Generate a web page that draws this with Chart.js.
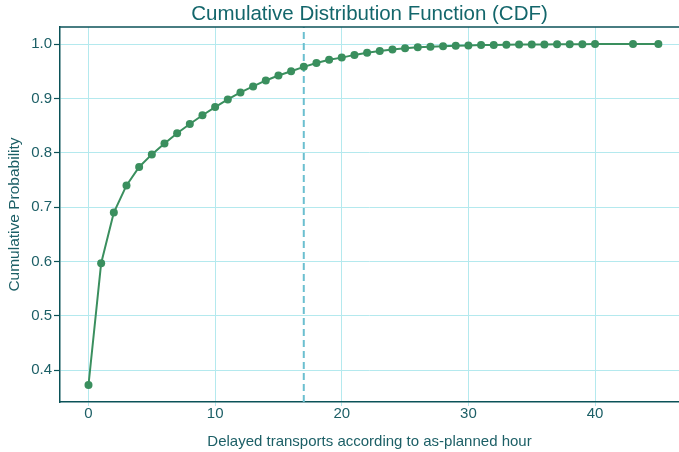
<!DOCTYPE html>
<html>
<head>
<meta charset="utf-8">
<script src="https://cdn.jsdelivr.net/npm/chart.js@4"></script>
<style>
  html, body { margin: 0; padding: 0; background: #fff; overflow: hidden; }
</style>
</head>
<body>
<canvas id="cdfChart" width="679" height="452"></canvas>
<script>
// delay values (x) and cumulative probability (y)
const delays = [0, 1, 2, 3, 4, 5, 6, 7, 8, 9, 10, 11, 12, 13, 14, 15, 16, 17, 18, 19, 20,
  21, 22, 23, 24, 25, 26, 27, 28, 29, 30, 31, 32, 33, 34, 35, 36, 37, 38, 39, 40, 43, 45];
const cdfValues = [0.373, 0.597, 0.690, 0.740, 0.774, 0.797, 0.817, 0.836, 0.853, 0.869, 0.884,
  0.898, 0.911, 0.922, 0.933, 0.942, 0.950, 0.958, 0.965, 0.971, 0.975,
  0.980, 0.984, 0.987, 0.990, 0.992, 0.994, 0.995, 0.996, 0.997, 0.9975,
  0.998, 0.998, 0.9985, 0.999, 0.999, 0.9993, 0.9995, 0.9997, 0.9998, 0.9999, 0.99995, 1.0];
const markerX = 17;
const xTicks = [0, 10, 20, 30, 40];
const yTicks = [0.4, 0.5, 0.6, 0.7, 0.8, 0.9, 1.0];

const yMin = 0.3417, yMax = 1.0313;
const xMin = -2.25, xMax = 46.63;

const fontFamily = "Liberation Sans";
const textColor = "#1c5f66";
const spineColor = "#0b5258";
const gridColor = "#b4e9ee";

// top spine like matplotlib
const topSpine = {
  id: "topSpine",
  afterDraw(chart) {
    const { ctx, chartArea } = chart;
    ctx.save();
    ctx.strokeStyle = spineColor;
    ctx.lineWidth = 1.5;
    ctx.beginPath();
    ctx.moveTo(chartArea.left, chartArea.top);
    ctx.lineTo(chartArea.right, chartArea.top);
    ctx.stroke();
    ctx.restore();
  }
};

new Chart(document.getElementById("cdfChart"), {
  type: "line",
  data: {
    datasets: [
      {
        label: "CDF",
        data: delays.map((d, i) => ({ x: d, y: cdfValues[i] })),
        borderColor: "#3a8f5e",
        backgroundColor: "#3a8f5e",
        borderWidth: 2,
        pointRadius: 4,
        pointBorderWidth: 0,
        tension: 0
      },
      {
        label: "marker",
        data: [{ x: markerX, y: yMin }, { x: markerX, y: yMax }],
        borderColor: "#6bbfd0",
        borderWidth: 2,
        borderDash: [7, 4],
        pointRadius: 0
      }
    ]
  },
  options: {
    responsive: false,
    animation: false,
    layout: { padding: 0, autoPadding: false },
    plugins: {
      legend: { display: false },
      tooltip: { enabled: false },
      title: {
        display: true,
        text: "Cumulative Distribution Function (CDF)",
        fullSize: false,
        color: "#13666b",
        font: { family: fontFamily, size: 20.5, weight: "normal" },
        padding: { top: 2, bottom: 0.4 }
      }
    },
    scales: {
      x: {
        type: "linear",
        min: xMin,
        max: xMax,
        afterBuildTicks: axis => { axis.ticks = xTicks.map(v => ({ value: v })); },
        afterFit: axis => { axis.height = 50; },
        grid: { color: gridColor, lineWidth: 1, tickLength: 4 },
        border: { display: true, color: spineColor, width: 1.5 },
        ticks: {
          color: textColor,
          padding: 0,
          maxRotation: 0,
          font: { family: fontFamily, size: 15, lineHeight: 1 }
        },
        title: {
          display: true,
          text: "Delayed transports according to as-planned hour",
          color: textColor,
          font: { family: fontFamily, size: 15 },
          padding: { top: 0, bottom: 1.5 }
        }
      },
      y: {
        min: yMin,
        max: yMax,
        afterBuildTicks: axis => { axis.ticks = yTicks.map(v => ({ value: v })); },
        afterFit: axis => { axis.width = 60; },
        grid: { color: gridColor, lineWidth: 1, tickLength: 6, tickColor: spineColor, tickWidth: 1.2 },
        border: { display: true, color: spineColor, width: 1.5 },
        ticks: {
          color: textColor,
          padding: 2,
          font: { family: fontFamily, size: 15 },
          callback: v => v.toFixed(1)
        },
        title: {
          display: true,
          text: "Cumulative Probability",
          color: textColor,
          font: { family: fontFamily, size: 15.5 },
          padding: { top: 5, bottom: 0 }
        }
      }
    }
  },
  plugins: [topSpine]
});
</script>
</body>
</html>
